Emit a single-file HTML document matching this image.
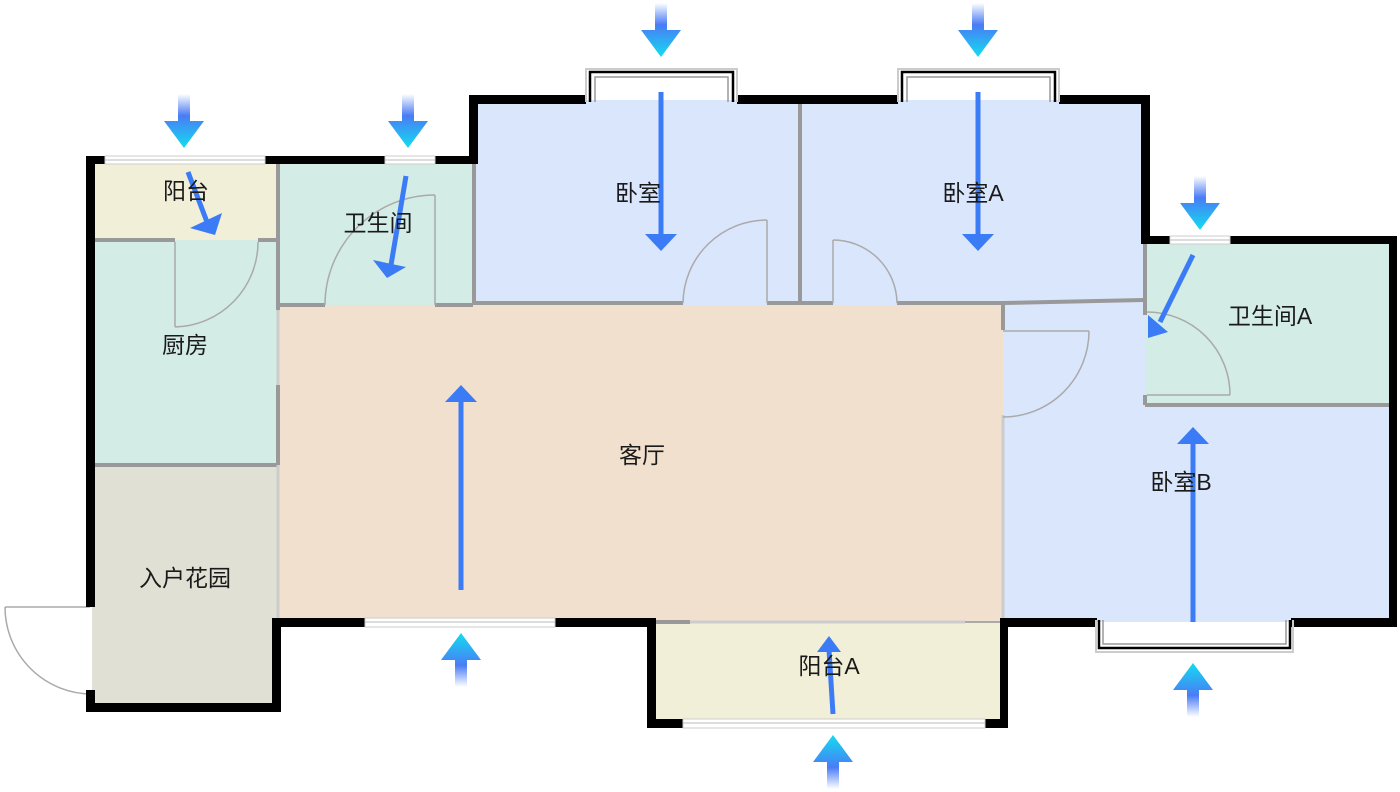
<!DOCTYPE html>
<html><head><meta charset="utf-8"><style>
html,body{margin:0;padding:0;background:#fff;width:1400px;height:792px;overflow:hidden}
svg{display:block}
text{font-family:"Liberation Sans","Noto Sans CJK SC",sans-serif;font-size:23px;fill:#1a1a1a;text-anchor:middle;dominant-baseline:middle}
</style></head><body>
<svg width="1400" height="792" viewBox="0 0 1400 792" xmlns="http://www.w3.org/2000/svg">
<defs>
<linearGradient id="gd" x1="0" y1="0" x2="0" y2="1">
<stop offset="0" stop-color="#4a7cf5" stop-opacity="0"/><stop offset="0.4" stop-color="#4a7cf5"/><stop offset="1" stop-color="#12dcf0"/></linearGradient>
<linearGradient id="gu" x1="0" y1="1" x2="0" y2="0">
<stop offset="0" stop-color="#4a7cf5" stop-opacity="0"/><stop offset="0.4" stop-color="#4a7cf5"/><stop offset="1" stop-color="#12dcf0"/></linearGradient>
<polygon id="down" points="-6,0 6,0 6,27 20,27 0,54 -20,27 -6,27" fill="url(#gd)"/>
<polygon id="up" points="-6,54 6,54 6,27 20,27 0,0 -20,27 -6,27" fill="url(#gu)"/>
</defs>

<rect x="92" y="160" width="186" height="80" fill="#f2efd9"/>
<rect x="92" y="240" width="186" height="225" fill="#d3ece6"/>
<rect x="92" y="465" width="186" height="243" fill="#e0e0d5"/>
<rect x="278" y="160" width="195" height="145" fill="#d3ece6"/>
<rect x="473" y="100" width="327" height="205" fill="#d9e6fc"/>
<rect x="800" y="100" width="345" height="205" fill="#d9e6fc"/>
<rect x="1003" y="300" width="390" height="322" fill="#d9e6fc"/>
<rect x="1145" y="240" width="248" height="165" fill="#d3ece6"/>
<rect x="278" y="305" width="725" height="317" fill="#f2e0cf"/>
<rect x="652" y="622" width="351" height="102" fill="#f2efd9"/>

<g stroke="#999" stroke-width="4" fill="none">
<line x1="92" y1="240" x2="175" y2="240"/><line x1="258" y1="240" x2="278" y2="240"/>
<line x1="278" y1="160" x2="278" y2="310"/>
<line x1="278" y1="385" x2="278" y2="465"/>
<line x1="92" y1="465" x2="278" y2="465"/>
<line x1="278" y1="305" x2="325" y2="305"/><line x1="435" y1="305" x2="473" y2="305"/>
<line x1="474" y1="100" x2="474" y2="305"/>
<line x1="473" y1="303" x2="683" y2="303"/><line x1="767" y1="303" x2="833" y2="303"/><line x1="897" y1="303" x2="1003" y2="303"/>
<line x1="1003" y1="303" x2="1145" y2="300"/>
<line x1="800" y1="100" x2="800" y2="303"/>
<line x1="1003" y1="303" x2="1003" y2="330"/>
<line x1="1145" y1="240" x2="1145" y2="315"/><line x1="1145" y1="395" x2="1145" y2="405"/>
<line x1="1145" y1="405" x2="1390" y2="405"/>
<line x1="655" y1="622" x2="690" y2="622"/><line x1="880" y1="622" x2="1003" y2="622" stroke="#aaa" stroke-width="2"/>
</g>
<g stroke="#ccc" stroke-width="3">
<line x1="278" y1="310" x2="278" y2="385"/><line x1="278" y1="465" x2="278" y2="618"/>
<line x1="1003" y1="415" x2="1003" y2="618"/>
<line x1="690" y1="622" x2="965" y2="622"/>
</g>

<g stroke="#aaa" stroke-width="1.5" fill="none">
<line x1="175" y1="242" x2="175" y2="327"/><path d="M175 327 A85 85 0 0 0 258 242"/>
<line x1="435" y1="305" x2="435" y2="195"/><path d="M435 195 A110 110 0 0 0 325 305"/>
<line x1="767" y1="303" x2="767" y2="220"/><path d="M767 220 A84 84 0 0 0 683 303"/>
<line x1="833" y1="303" x2="833" y2="240"/><path d="M833 240 A64 64 0 0 1 897 303"/>
<line x1="1003" y1="331" x2="1089" y2="331"/><path d="M1089 331 A86 86 0 0 1 1003 417"/>
<line x1="1147" y1="395" x2="1230" y2="395"/><path d="M1147 312 A83 83 0 0 1 1230 395"/>
<line x1="5" y1="607" x2="90" y2="607"/><path d="M5 607 A87 87 0 0 0 92 694"/>
</g>

<g fill="#000">
<rect x="86" y="156" width="9" height="451"/><rect x="86" y="690" width="9" height="22"/>
<rect x="86" y="703" width="195" height="9"/>
<rect x="272" y="618" width="9" height="94"/>
<rect x="272" y="618" width="93" height="9"/>
<rect x="555" y="618" width="100" height="9"/>
<rect x="647" y="618" width="9" height="110"/>
<rect x="647" y="719" width="36" height="9"/>
<rect x="985" y="719" width="23" height="9"/>
<rect x="1000" y="618" width="8" height="110"/>
<rect x="1000" y="618" width="97" height="9"/>
<rect x="1291" y="618" width="106" height="9"/>
<rect x="1389" y="236" width="8" height="391"/>
<rect x="1230" y="236" width="167" height="8"/>
<rect x="1141" y="236" width="29" height="8"/>
<rect x="1141" y="95" width="9" height="149"/>
<rect x="1059" y="95" width="91" height="9"/>
<rect x="737" y="95" width="161" height="9"/>
<rect x="469" y="95" width="117" height="9"/>
<rect x="469" y="95" width="9" height="69"/>
<rect x="435" y="156" width="43" height="8"/>
<rect x="265" y="156" width="120" height="8"/>
<rect x="86" y="156" width="19" height="8"/>
</g>

<g>
<rect x="105" y="156" width="160" height="8" fill="#fff" stroke="#ccc" stroke-width="1"/><line x1="105" y1="160" x2="265" y2="160" stroke="#bbb"/>
<rect x="385" y="156" width="50" height="8" fill="#fff" stroke="#ccc"/><line x1="385" y1="160" x2="435" y2="160" stroke="#bbb"/>
<rect x="1170" y="236" width="60" height="8" fill="#fff" stroke="#ccc"/><line x1="1170" y1="240" x2="1230" y2="240" stroke="#bbb"/>
<rect x="365" y="618" width="190" height="9" fill="#fff" stroke="#ccc"/><line x1="365" y1="622" x2="555" y2="622" stroke="#bbb"/>
<rect x="683" y="719" width="302" height="9" fill="#fff" stroke="#ccc"/><line x1="683" y1="723" x2="985" y2="723" stroke="#bbb"/>
</g>
<g fill="none">
<path d="M586 102 V69 H737 V102" stroke="#ccc" stroke-width="2"/>
<path d="M590 102 V72 H733 V102" stroke="#000" stroke-width="2.5"/>
<path d="M595 102 V77 H728 V102" stroke="#999" stroke-width="1.5"/>
<path d="M898 102 V69 H1059 V102" stroke="#ccc" stroke-width="2"/>
<path d="M902 102 V72 H1055 V102" stroke="#000" stroke-width="2.5"/>
<path d="M907 102 V77 H1050 V102" stroke="#999" stroke-width="1.5"/>
<path d="M1096 620 V652 H1293 V620" stroke="#ccc" stroke-width="2"/>
<path d="M1099 620 V648 H1290 V620" stroke="#000" stroke-width="2.5"/>
<path d="M1103 620 V644 H1286 V620" stroke="#999" stroke-width="1.5"/>
</g>

<g stroke="#3b7cf6" stroke-width="5" fill="#3b7cf6">
<line x1="661" y1="92" x2="661" y2="240"/><polygon points="645,234 677,234 661,251" stroke="none"/>
<line x1="978" y1="92" x2="978" y2="240"/><polygon points="962,234 994,234 978,251" stroke="none"/>
<line x1="188" y1="172" x2="207" y2="222"/><polygon points="190,228 222,213 215,235" stroke="none"/>
<line x1="406" y1="176" x2="391" y2="265"/><polygon points="373,260 406,267 387,278" stroke="none"/>
<line x1="1193" y1="255" x2="1160" y2="322"/><polygon points="1148,315 1148,338 1168,332" stroke="none"/>
<line x1="461" y1="590" x2="461" y2="398"/><polygon points="445,402 477,402 461,385" stroke="none"/>
<line x1="833" y1="714" x2="829" y2="650"/><polygon points="817,652 841,652 829,636" stroke="none"/>
<line x1="1193" y1="622" x2="1193" y2="440"/><polygon points="1177,444 1209,444 1193,427" stroke="none"/>
</g>

<use href="#down" x="661" y="3"/>
<use href="#down" x="978" y="3"/>
<use href="#down" x="184" y="94"/>
<use href="#down" x="408" y="94"/>
<use href="#down" x="1200" y="176"/>
<use href="#up" x="461" y="633"/>
<use href="#up" x="833" y="735"/>
<use href="#up" x="1193" y="663"/>

<text x="186" y="193">阳台</text>
<text x="378" y="225">卫生间</text>
<text x="638" y="195">卧室</text>
<text x="973" y="195">卧室A</text>
<text x="1270" y="318">卫生间A</text>
<text x="185" y="347">厨房</text>
<text x="642" y="457">客厅</text>
<text x="1181" y="484">卧室B</text>
<text x="185" y="580">入户花园</text>
<text x="829" y="668">阳台A</text>
</svg>
</body></html>
